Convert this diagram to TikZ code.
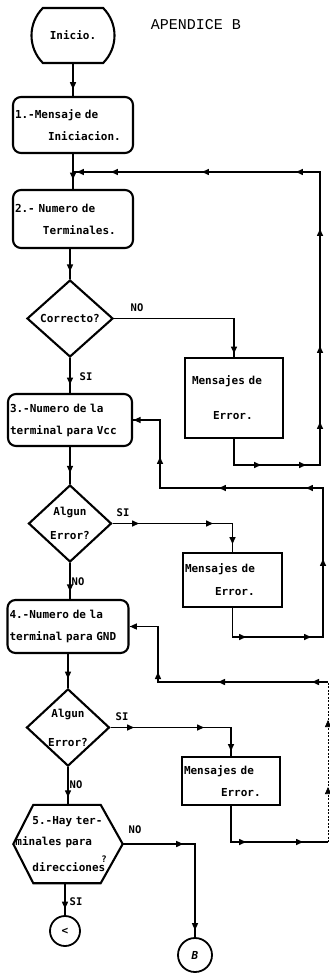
\documentclass[tikz,border=0pt]{standalone}
\usepackage{fontspec}
\newfontfamily\mono{DejaVu Sans Mono}
\newfontfamily\typew{Liberation Mono}
\usetikzlibrary{shapes.geometric,shapes.misc,arrows.meta,decorations.markings,calc}
\tikzset{
  box/.style={draw, line width=2.1pt, inner ysep=0pt, align=left, font=\mono\bfseries\fontsize{11pt}{22pt}\selectfont},
  procbox/.style={box, rounded corners=8pt},
  errbox/.style={box},
  decbox/.style={diamond, draw, line width=2.1pt, inner sep=0pt, align=center, font=\mono\bfseries\fontsize{11pt}{24pt}\selectfont},
  flow/.style={line width=1.4pt},
  thinflow/.style={line width=0.7pt, dash pattern=on 2pt off 1.5pt},
  ah/.style={postaction={decorate,decoration={markings,mark=at position #1 with {\arrow{Triangle[length=7pt,width=6pt]}}}}},
  lbl/.style={font=\mono\bfseries\fontsize{10.5pt}{12pt}\selectfont, inner sep=0pt},
  conn/.style={draw, circle, line width=1.8pt, inner sep=0pt, font=\mono\bfseries\fontsize{11pt}{12pt}\selectfont},
}
\begin{document}
\begin{tikzpicture}[x=1pt,y=-1pt]
\useasboundingbox (0,0) rectangle (329,973);

% nodes
\node[draw, rounded rectangle, rounded rectangle arc length=90, minimum width=83pt, minimum height=55pt, line width=2.1pt, inner sep=0pt, font=\mono\bfseries\fontsize{11pt}{13pt}\selectfont] (inicio) at (73,35.5) {Inicio.};
\node[font=\typew\fontsize{15pt}{18pt}\selectfont, inner sep=0pt] (apx) at (196,25) {APENDICE B};

\node[procbox, minimum height=56pt, text width=116pt, inner xsep=2pt] (b1) at (73,125) {1.-Mensaje de\\\hspace*{33pt}Iniciacion.};
\node[procbox, minimum height=58pt, text width=116pt, inner xsep=2pt] (b2) at (73,219) {2.- Numero de\\\hspace*{28pt}Terminales.};
\node[decbox, minimum width=86pt, minimum height=77pt] (d1) at (70,318.5) {Correcto?};
\node[errbox, minimum height=80pt, text width=84pt, inner xsep=7pt] (e1) at (234,398) {Mensajes de\\[13pt]\hspace*{21pt}Error.};
\node[procbox, minimum height=52pt, text width=120pt, inner xsep=2pt] (b3) at (70,420) {3.-Numero de la\\terminal para Vcc};
\node[decbox, minimum width=83pt, minimum height=77pt] (d2) at (70,523.5) {Algun\\Error?};
\node[errbox, minimum height=54pt, text width=95pt, inner xsep=2pt] (e2) at (232.5,580) {Mensajes de\\[1pt]\hspace*{30pt}Error.};
\node[procbox, minimum height=53pt, text width=117pt, inner xsep=2pt] (b4) at (68,626.5) {4.-Numero de la\\terminal para GND};
\node[decbox, minimum width=83pt, minimum height=75pt] (d3) at (68,727.5) {Algun\\[5pt]Error?};
\node[errbox, minimum height=48pt, text width=94pt, inner xsep=2pt] (e3) at (231,781) {Mensajes de\\\hspace*{37pt}Error.};
\node[minimum width=109pt, minimum height=78pt, text width=105pt, inner xsep=2pt, inner ysep=0pt, align=left, font=\mono\bfseries\fontsize{11pt}{21pt}\selectfont] (hex) at (68,844) {\hspace*{17pt}5.-Hay ter-\\minales para\\[5pt]\hspace*{17pt}direcciones};
\draw[line width=2.1pt] (hex.west) -- ([xshift=20pt]hex.north west) -- ([xshift=-22pt]hex.north east) -- (hex.east) -- ([xshift=-22pt]hex.south east) -- ([xshift=20pt]hex.south west) -- cycle;
\node[font=\mono\bfseries\fontsize{9pt}{10pt}\selectfont, inner sep=0pt] (hq) at (104,859) {?};
\node[conn, minimum size=30pt] (cA) at (65,931) {<};
\node[conn, minimum size=34pt] (cB) at (195,955) {\itshape B};

% labels
\node[lbl] (lno1) at (137,308) {NO};
\node[lbl] (lsi1) at (86,377) {SI};
\node[lbl] (lsi2) at (123,513) {SI};
\node[lbl] (lno2) at (78,582) {NO};
\node[lbl] (lsi3) at (122,717) {SI};
\node[lbl] (lno3) at (76,785) {NO};
\node[lbl] (lno4) at (135,830) {NO};
\node[lbl] (lsi4) at (76,902) {SI};

% coordinates
\coordinate (j1) at (73,172);
\coordinate (r1a) at (234,465);
\coordinate (r1b) at (320,465);
\coordinate (r1c) at (320,172);
\coordinate (r2a) at (232.5,637);
\coordinate (r2b) at (323,637);
\coordinate (r2c) at (323,488);
\coordinate (r2d) at (160,488);
\coordinate (r3a) at (231,842);
\coordinate (r3b) at (328,842);
\coordinate (r3c) at (328,682);
\coordinate (r3d) at (158,682);

% main flow
\draw[flow, ah=0.79] (inicio.south) -- (b1.north);
\draw[flow, ah=0.73] (b1.south) -- (b2.north);
\draw[flow, ah=0.75] (b2.south -| d1.north) -- (d1.north);
\draw[flow, ah=155pt] (d1.east) -| (e1.north);
\draw[flow, ah=53pt, ah=98pt, ah=155pt, ah=231pt, ah=348pt, ah=429pt, ah=523pt, ah=614pt, ah=648pt]
  (e1.south) -- (r1a) -- (r1b) -- (r1c) -- (j1);
\draw[flow, ah=0.76] (d1.south) -- (b3.north);
\draw[flow, ah=0.7] (b3.south) -- (d2.north);
\draw[flow, ah=26.5pt, ah=100.5pt, ah=140.5pt] (d2.east) -| (e2.north);
\draw[flow, ah=42.5pt, ah=107.5pt, ah=197.5pt, ah=285.5pt, ah=372.5pt, ah=462.5pt, ah=0.999]
  (e2.south) -- (r2a) -- (r2b) -- (r2c) -- (r2d) |- (b3.east);
\draw[flow, ah=0.79] (d2.south) -- (d2.south |- b4.north);
\draw[flow, ah=0.73] (b4.south) -- (d3.north);
\draw[flow, ah=23.5pt, ah=93.5pt, ah=144pt] (d3.east) -| (e3.north);
\draw[flow, ah=51pt, ah=108pt] (e3.south) -- (r3a) -- (r3b);
\draw[thinflow, ah=55pt, ah=122pt] (r3b) -- (r3c);
\draw[flow, ah=16pt, ah=110pt, ah=180pt, ah=0.999] (r3c) -- (r3d) |- (b4.east);
\draw[flow, ah=0.8] (d3.south) -- (hex.north);
\draw[flow, ah=60.5pt, ah=158.5pt] (hex.east) -| (cB.north);
\draw[flow, ah=0.8] (hex.south -| cA.north) -- (cA.north);
\end{tikzpicture}
\end{document}
